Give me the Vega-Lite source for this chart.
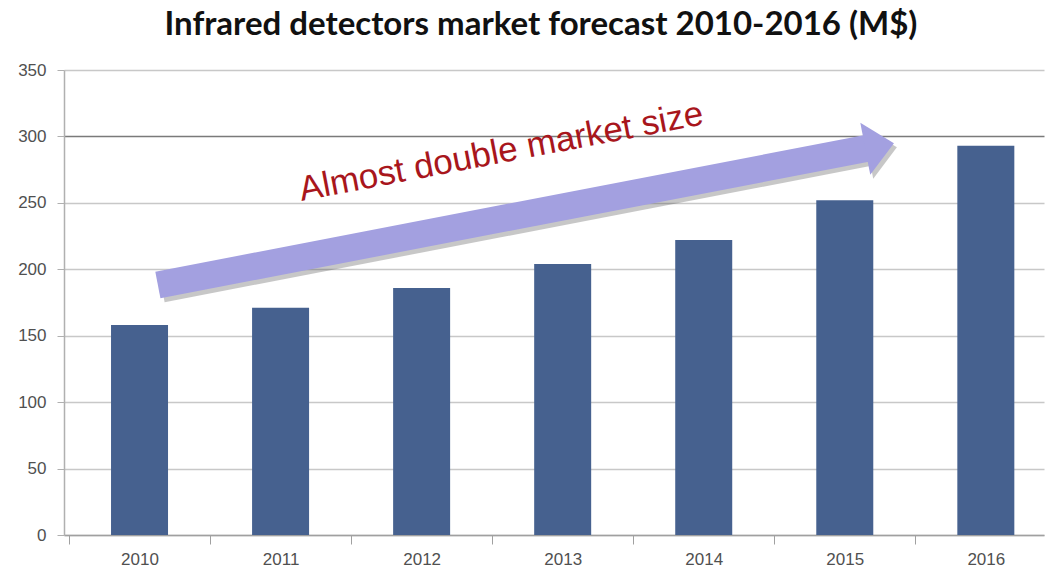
{
  "$schema": "https://vega.github.io/schema/vega-lite/v6.json",
  "width": 980,
  "height": 465,
  "autosize": {"type": "none"},
  "padding": {"left": 64, "top": 70, "right": 4, "bottom": 35},
  "background": "white",
  "title": {
    "text": "Infrared detectors market forecast 2010-2016 (M$)",
    "font": "Lato",
    "fontWeight": "bold",
    "fontSize": 33,
    "color": "#111111",
    "anchor": "middle",
    "dx": -13,
    "offset": 19
  },
  "config": {"view": {"stroke": null}},
  "datasets": {
    "bars": [
      {"x": 2010, "y": 158},
      {"x": 2011, "y": 171},
      {"x": 2012, "y": 186},
      {"x": 2013, "y": 204},
      {"x": 2014, "y": 222},
      {"x": 2015, "y": 252},
      {"x": 2016, "y": 293}
    ],
    "arrow": [
      {"kind": "shadow", "x": 2010.16, "y": 185.2, "x2": 2015.19, "y2": 288.3},
      {"kind": "main", "x": 2010.13, "y": 188.2, "x2": 2015.17, "y2": 291.3}
    ],
    "head": [
      {"kind": "shadow", "x": 2015.268, "y": 289.8},
      {"kind": "main", "x": 2015.247, "y": 292.8}
    ],
    "note": [
      {"x": 2011.149, "y": 251.4, "label": "Almost double market size"}
    ]
  },
  "encoding": {
    "x": {
      "field": "x",
      "type": "quantitative",
      "scale": {"domain": [2009.5, 2016.377], "nice": false, "zero": false},
      "axis": {
        "title": null,
        "values": [2009.5, 2010, 2010.5, 2011, 2011.5, 2012, 2012.5, 2013, 2013.5, 2014, 2014.5, 2015, 2015.5, 2016],
        "labelExpr": "datum.value % 1 === 0 ? format(datum.value, 'd') : ''",
        "tickOpacity": {"expr": "datum.value % 1 === 0 ? 0 : 1"},
        "tickSize": 9,
        "tickColor": "#a0a0a0",
        "domainColor": "#a0a0a0",
        "domainWidth": 1.5,
        "grid": false,
        "labelFont": "Liberation Sans",
        "labelFontSize": 17,
        "labelColor": "#505050",
        "labelPadding": 7,
        "labelFlush": false,
        "labelOverlap": false
      }
    },
    "y": {
      "field": "y",
      "type": "quantitative",
      "scale": {"domain": [0, 350], "nice": false},
      "axis": {
        "title": null,
        "values": [0, 50, 100, 150, 200, 250, 300, 350],
        "tickSize": 7,
        "tickColor": "#b0b0b0",
        "domainColor": "#b0b0b0",
        "domainWidth": 1.5,
        "gridColor": {"expr": "datum.value === 300 ? '#7a7a7a' : '#c8c8c8'"},
        "gridWidth": 1.5,
        "labelFont": "Liberation Sans",
        "labelFontSize": 17,
        "labelColor": "#505050",
        "labelPadding": 11
      }
    }
  },
  "layer": [
    {
      "data": {"name": "bars"},
      "mark": {"type": "bar", "width": 57, "color": "#46618f"}
    },
    {
      "data": {"name": "arrow"},
      "transform": [{"filter": "datum.kind === 'shadow'"}],
      "mark": {"type": "rule", "strokeWidth": 27, "strokeCap": "butt", "color": "#444444", "opacity": 0.3},
      "encoding": {
        "x2": {"field": "x2"},
        "y2": {"field": "y2"}
      }
    },
    {
      "data": {"name": "head"},
      "transform": [{"filter": "datum.kind === 'shadow'"}],
      "mark": {"type": "point", "shape": "M-0.55,-1 L0.55,0 L-0.55,1 Z", "filled": true, "size": 2809, "angle": 349.2, "color": "#444444", "opacity": 0.3, "strokeWidth": 0}
    },
    {
      "data": {"name": "arrow"},
      "transform": [{"filter": "datum.kind === 'main'"}],
      "mark": {"type": "rule", "strokeWidth": 27, "strokeCap": "butt", "color": "#a3a0e0"},
      "encoding": {
        "x2": {"field": "x2"},
        "y2": {"field": "y2"}
      }
    },
    {
      "data": {"name": "head"},
      "transform": [{"filter": "datum.kind === 'main'"}],
      "mark": {"type": "point", "shape": "M-0.55,-1 L0.55,0 L-0.55,1 Z", "filled": true, "size": 2809, "angle": 349.2, "color": "#a3a0e0", "opacity": 1, "strokeWidth": 0}
    },
    {
      "data": {"name": "note"},
      "mark": {"type": "text", "align": "left", "baseline": "alphabetic", "angle": 349.2, "font": "Liberation Sans", "fontSize": 35, "color": "#a8161c"},
      "encoding": {
        "text": {"field": "label"}
      }
    }
  ]
}
